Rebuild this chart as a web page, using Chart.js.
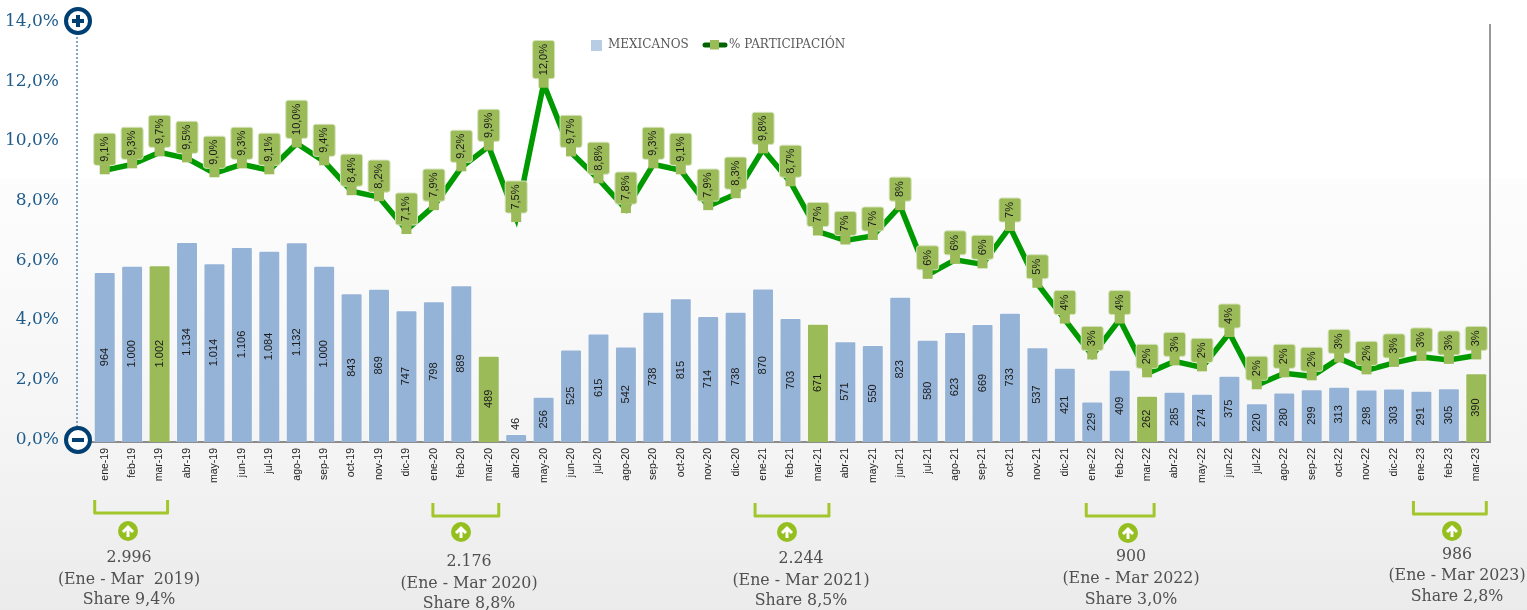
<!DOCTYPE html>
<html lang="es">
<head>
<meta charset="utf-8">
<title>Mexicanos y % participación</title>
<script src="https://cdn.jsdelivr.net/npm/chart.js@4"></script>
<style>
html,body{margin:0;padding:0;width:1527px;height:610px;overflow:hidden;
background:linear-gradient(180deg,#ffffff 0,#ffffff 178px,#fdfdfd 178px,#f8f8f8 340px,#f3f3f3 470px,#ebebeb 610px);}
canvas{display:block}
</style>
</head>
<body>
<canvas id="c" width="1527" height="610"></canvas>
<script>
const months = ["ene-19","feb-19","mar-19","abr-19","may-19","jun-19","jul-19","ago-19","sep-19","oct-19","nov-19","dic-19",
"ene-20","feb-20","mar-20","abr-20","may-20","jun-20","jul-20","ago-20","sep-20","oct-20","nov-20","dic-20",
"ene-21","feb-21","mar-21","abr-21","may-21","jun-21","jul-21","ago-21","sep-21","oct-21","nov-21","dic-21",
"ene-22","feb-22","mar-22","abr-22","may-22","jun-22","jul-22","ago-22","sep-22","oct-22","nov-22","dic-22",
"ene-23","feb-23","mar-23"];
const mexicanos = [964,1000,1002,1134,1014,1106,1084,1132,1000,843,869,747,
798,889,489,46,256,525,615,542,738,815,714,738,
870,703,671,571,550,823,580,623,669,733,537,421,
229,409,262,285,274,375,220,280,299,313,298,303,
291,305,390];
const participacion = [9.1,9.3,9.7,9.5,9.0,9.3,9.1,10.0,9.4,8.4,8.2,7.1,
7.9,9.2,9.9,7.5,12.0,9.7,8.8,7.8,9.3,9.1,7.9,8.3,
9.8,8.7,7.05,6.75,6.9,7.9,5.6,6.1,5.95,7.2,5.3,4.1,
2.9,4.1,2.3,2.7,2.5,3.65,1.9,2.3,2.2,2.8,2.4,2.65,
2.85,2.75,2.9];
const participacionTexto = ["9,1%","9,3%","9,7%","9,5%","9,0%","9,3%","9,1%","10,0%","9,4%","8,4%","8,2%","7,1%",
"7,9%","9,2%","9,9%","7,5%","12,0%","9,7%","8,8%","7,8%","9,3%","9,1%","7,9%","8,3%",
"9,8%","8,7%","7%","7%","7%","8%","6%","6%","6%","7%","5%","4%",
"3%","4%","2%","3%","2%","4%","2%","2%","2%","3%","2%","3%",
"3%","3%","3%"];
const marzosResaltados = ["mar-19","mar-20","mar-21","mar-22","mar-23"];
const totales = ["2.996","2.176","2.244","900","986"];
const periodos = ["(Ene - Mar  2019)","(Ene - Mar 2020)","(Ene - Mar 2021)","(Ene - Mar 2022)","(Ene - Mar 2023)"];
const shares = ["Share 9,4%","Share 8,8%","Share 8,5%","Share 3,0%","Share 2,8%"];
const inicioPeriodo = ["ene-19","ene-20","ene-21","ene-22","ene-23"];
const finPeriodo = ["mar-19","mar-20","mar-21","mar-22","mar-23"];

// layout of the annotation blocks (pixels, not data)
const bloques = [
 {l:-10,r:8,top:500,ax:128,ay:531,tx:129,ty:[558,580,600]},
 {l:-1,r:10,top:503,ax:461,ay:532,tx:469,ty:[562,584,604]},
 {l:-8,r:11,top:503,ax:787,ay:532,tx:801,ty:[559,581,601]},
 {l:-6,r:7,top:503,ax:1128,ay:533,tx:1131,ty:[557,579,600]},
 {l:-8,r:10,top:501,ax:1452,ay:531,tx:1457,ty:[555,576,597]}
];

const AZUL="#95B3D7", VERDE="#9BBB59", LINEA="#009A00";
const SERIF='"DejaVu Serif","Liberation Serif",serif';
const NARROW='"Liberation Sans Narrow","Liberation Sans",sans-serif';

function circleIcon(ctx,x,y,plus){
  ctx.save();
  ctx.beginPath();ctx.arc(x,y,12,0,Math.PI*2);
  ctx.fillStyle="#fff";ctx.fill();
  ctx.lineWidth=4;ctx.strokeStyle="#003F72";ctx.stroke();
  ctx.fillStyle="#003F72";
  ctx.fillRect(x-6,y-2,12,4);
  if(plus)ctx.fillRect(x-2,y-6,4,12);
  ctx.restore();
}
function vText(ctx,t,x,y){
  ctx.save();ctx.translate(x,y);ctx.rotate(-Math.PI/2);
  ctx.textAlign="center";ctx.textBaseline="middle";ctx.fillText(t,0,0);ctx.restore();
}
const decor={
 id:"decor",
 beforeDatasetsDraw(chart){
  const {ctx,chartArea:a}=chart;
  ctx.save();
  ctx.strokeStyle="#3F78A8";ctx.lineWidth=1.3;ctx.setLineDash([2,2]);
  ctx.beginPath();ctx.moveTo(77,33);ctx.lineTo(77,428);ctx.stroke();
  ctx.setLineDash([]);
  ctx.strokeStyle="#999";ctx.lineWidth=2;
  ctx.beginPath();ctx.moveTo(a.right,a.top);ctx.lineTo(a.right,a.bottom);ctx.stroke();
  ctx.restore();
 },
 afterDatasetsDraw(chart){
  const {ctx,scales}=chart;
  const x=scales.x,y2=scales.y2,y=scales.y;
  ctx.save();
  ctx.fillStyle="#1a1a1a";ctx.font='11px '+NARROW;
  mexicanos.forEach((v,i)=>{
    const px=x.getPixelForValue(i),top=y2.getPixelForValue(v),base=y2.getPixelForValue(0);
    const cy=(base-top)<24?top-10:(top+base)/2;
    vText(ctx,v>=1000?String(v).slice(0,-3)+"."+String(v).slice(-3):String(v),px,cy);
  });
  ctx.font='11px '+NARROW;
  participacion.forEach((v,i)=>{
    const px=x.getPixelForValue(i),py=y.getPixelForValue(v),t=participacionTexto[i];
    const h=Math.max(24,ctx.measureText(t).width+7),w=22,bottom=py-5;
    ctx.fillStyle=VERDE;
    ctx.strokeStyle="#D6E3BC";ctx.lineWidth=1;
    ctx.beginPath();ctx.roundRect(px-w/2,bottom-h,w,h,2.5);ctx.fill();ctx.stroke();
    ctx.fillRect(px-5,bottom-1,10,10);
    ctx.fillStyle="#1a1a1a";
    vText(ctx,t,px,bottom-h/2);
  });
  ctx.font='12px '+SERIF;ctx.textBaseline="middle";ctx.textAlign="left";
  ctx.fillStyle="#B8CCE4";ctx.fillRect(591,40,11,11);
  ctx.fillStyle="#595959";ctx.fillText(chart.data.datasets[1].label,608,45);
  ctx.strokeStyle="#006400";ctx.lineWidth=5;ctx.lineCap="round";
  ctx.beginPath();ctx.moveTo(705,45);ctx.lineTo(725,45);ctx.stroke();
  ctx.fillStyle=VERDE;ctx.fillRect(710,40,9,9.5);
  ctx.fillStyle="#595959";ctx.fillText(chart.data.datasets[0].label,729,45);
  bloques.forEach((b,i)=>{
    const x0=x.getPixelForValue(months.indexOf(inicioPeriodo[i]))+b.l,
          x1=x.getPixelForValue(months.indexOf(finPeriodo[i]))+b.r;
    ctx.strokeStyle="#A2C62C";ctx.lineWidth=3;ctx.lineCap="butt";ctx.lineJoin="round";
    ctx.beginPath();ctx.moveTo(x0,b.top);ctx.lineTo(x0,b.top+13);ctx.lineTo(x1,b.top+13);ctx.lineTo(x1,b.top);ctx.stroke();
    ctx.fillStyle="#94BF1F";
    ctx.beginPath();ctx.arc(b.ax,b.ay,10,0,Math.PI*2);ctx.fill();
    ctx.strokeStyle="#fff";ctx.lineWidth=3;ctx.lineCap="butt";ctx.lineJoin="miter";
    ctx.beginPath();ctx.moveTo(b.ax,b.ay+6);ctx.lineTo(b.ax,b.ay-4);
    ctx.moveTo(b.ax-5,b.ay+1);ctx.lineTo(b.ax,b.ay-4);ctx.lineTo(b.ax+5,b.ay+1);ctx.stroke();
    ctx.fillStyle="#505050";ctx.font='15.8px '+SERIF;ctx.textAlign="center";ctx.textBaseline="middle";
    ctx.fillText(totales[i],b.tx,b.ty[0]);
    ctx.fillText(periodos[i],b.tx,b.ty[1]);
    ctx.fillText(shares[i],b.tx,b.ty[2]);
  });
  circleIcon(ctx,78,21,true);
  circleIcon(ctx,78,440,false);
  ctx.restore();
 }
};

new Chart(document.getElementById("c"),{
 data:{labels:months,datasets:[
  {type:"line",label:"% PARTICIPACIÓN",data:participacion,yAxisID:"y",borderColor:LINEA,borderWidth:5.5,
   pointRadius:0,tension:0,order:1,borderJoinStyle:"miter"},
  {type:"bar",label:"MEXICANOS",data:mexicanos,yAxisID:"y2",
   backgroundColor:months.map(m=>marzosResaltados.includes(m)?VERDE:AZUL),
   borderColor:"rgba(255,255,255,0.35)",borderWidth:1,borderRadius:{topLeft:2,topRight:2},
   barPercentage:0.8,categoryPercentage:1,order:2}
 ]},
 options:{
  responsive:false,animation:false,
  layout:{padding:{top:24,right:37,left:0,bottom:0}},
  plugins:{legend:{display:false},tooltip:{enabled:false}},
  scales:{
   x:{type:"category",grid:{display:false,drawTicks:false},
      border:{display:true,color:"#8C8C8C",width:2},
      ticks:{autoSkip:false,minRotation:90,maxRotation:90,padding:6,color:"#222",font:{family:NARROW,size:10.5}},
      afterFit(s){s.height=168;s.paddingLeft=0;s.paddingRight=0;}},
   y:{type:"linear",min:0,max:14,position:"left",grid:{display:false,drawTicks:false},border:{display:false},
      ticks:{stepSize:2,padding:32,labelOffset:-2.5,color:"#1F5C8B",font:{family:SERIF,size:17},
             callback:v=>v.toFixed(1).replace(".",",")+"%"},
      afterFit(s){s.width=91;s.paddingTop=0;s.paddingBottom=0;}},
   y2:{type:"linear",min:0,max:2370,display:false,afterFit(s){s.paddingTop=0;s.paddingBottom=0;}}
  }
 },
 plugins:[decor]
});
</script>
</body>
</html>
